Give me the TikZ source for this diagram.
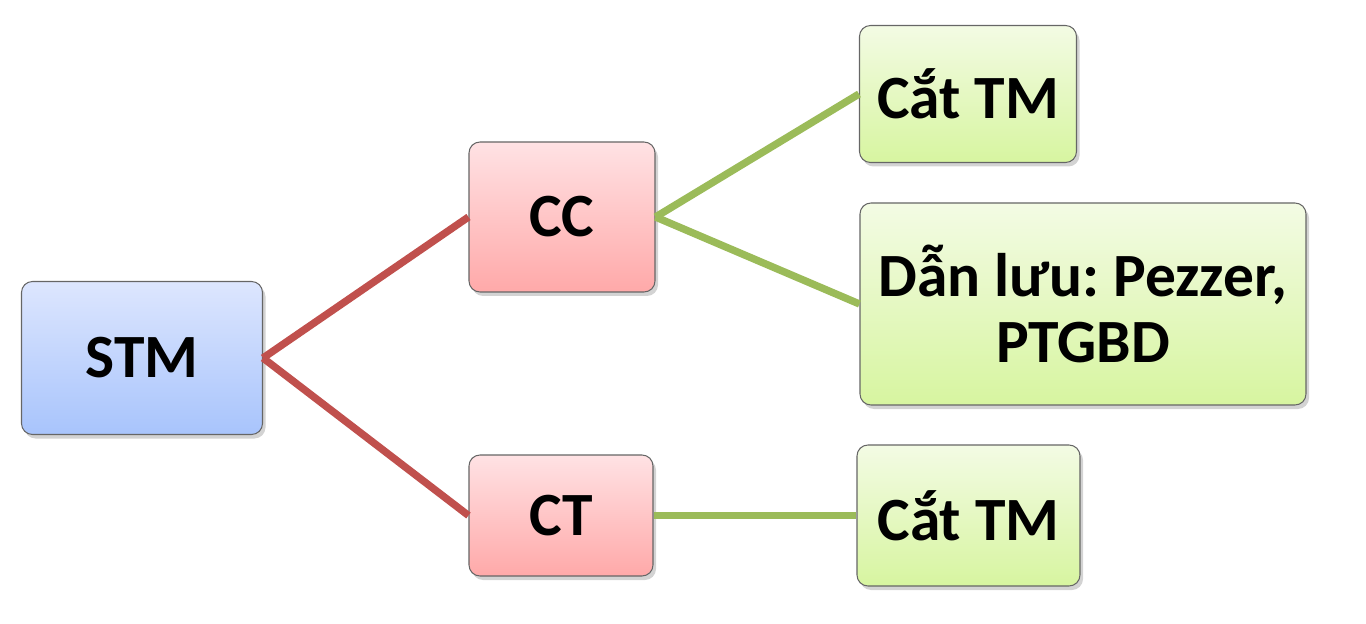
\documentclass[tikz,border=0pt]{standalone}
\usepackage{fontspec}
\setmainfont{Carlito}
\usepackage{xcolor}
\usepackage{tikz}
\usetikzlibrary{shadows}

\definecolor{linered}{HTML}{C0504D}
\definecolor{linegreen}{HTML}{9BBB59}
\definecolor{bluetop}{HTML}{DDE6FE}
\definecolor{bluebottom}{HTML}{A8C4FC}
\definecolor{redtop}{HTML}{FFE2E4}
\definecolor{redbottom}{HTML}{FFA9A9}
\definecolor{greentop}{HTML}{F3FBE4}
\definecolor{greenbottom}{HTML}{D7F5A0}

\begin{document}
\frenchspacing
\begin{tikzpicture}[thick,
    box/.style={draw=gray!80!black, line width=0.6pt, rounded corners=0.22cm, inner sep=0pt,
        align=center, font=\fontsize{35}{38}\selectfont\bfseries,
        drop shadow={shadow xshift=0.06cm, shadow yshift=-0.08cm, opacity=0.35}},
    bluebox/.style={box, top color=bluetop, bottom color=bluebottom},
    redbox/.style={box, top color=redtop, bottom color=redbottom},
    greenbox/.style={box, top color=greentop, bottom color=greenbottom},
    redlink/.style={draw=linered, line width=4.2pt},
    greenlink/.style={draw=linegreen, line width=4.2pt}]
    \useasboundingbox (0,0) rectangle (27.32,12.46);
    % Define the boxes
    \node[bluebox, minimum width=4.82cm, minimum height=3.06cm] (stm) at (2.84,5.30) {STM};
    \node[redbox, minimum width=3.72cm, minimum height=3.0cm] (cc) at (11.24,8.12) {CC};
    \node[redbox, minimum width=3.68cm, minimum height=2.42cm] (ct) at (11.22,2.15) {CT};
    \node[greenbox, minimum width=4.34cm, minimum height=2.74cm] (catcc) at (19.36,10.58) {Cắt TM};
    \node[greenbox, minimum width=8.92cm, minimum height=4.04cm] (danluu) at (21.66,6.38) {Dẫn lưu: Pezzer,\\PTGBD};
    \node[greenbox, minimum width=4.46cm, minimum height=2.82cm] (catct) at (19.37,2.15) {Cắt TM};

    % Define the links
    \draw[redlink] (stm.east) -- (cc.west);
    \draw[redlink] (stm.east) -- (ct.west);
    \draw[greenlink] (cc.east) -- (catcc.west);
    \draw[greenlink] (cc.east) -- (danluu.west);
    \draw[greenlink] (ct.east) -- (catct.west);

\end{tikzpicture}
\end{document}
